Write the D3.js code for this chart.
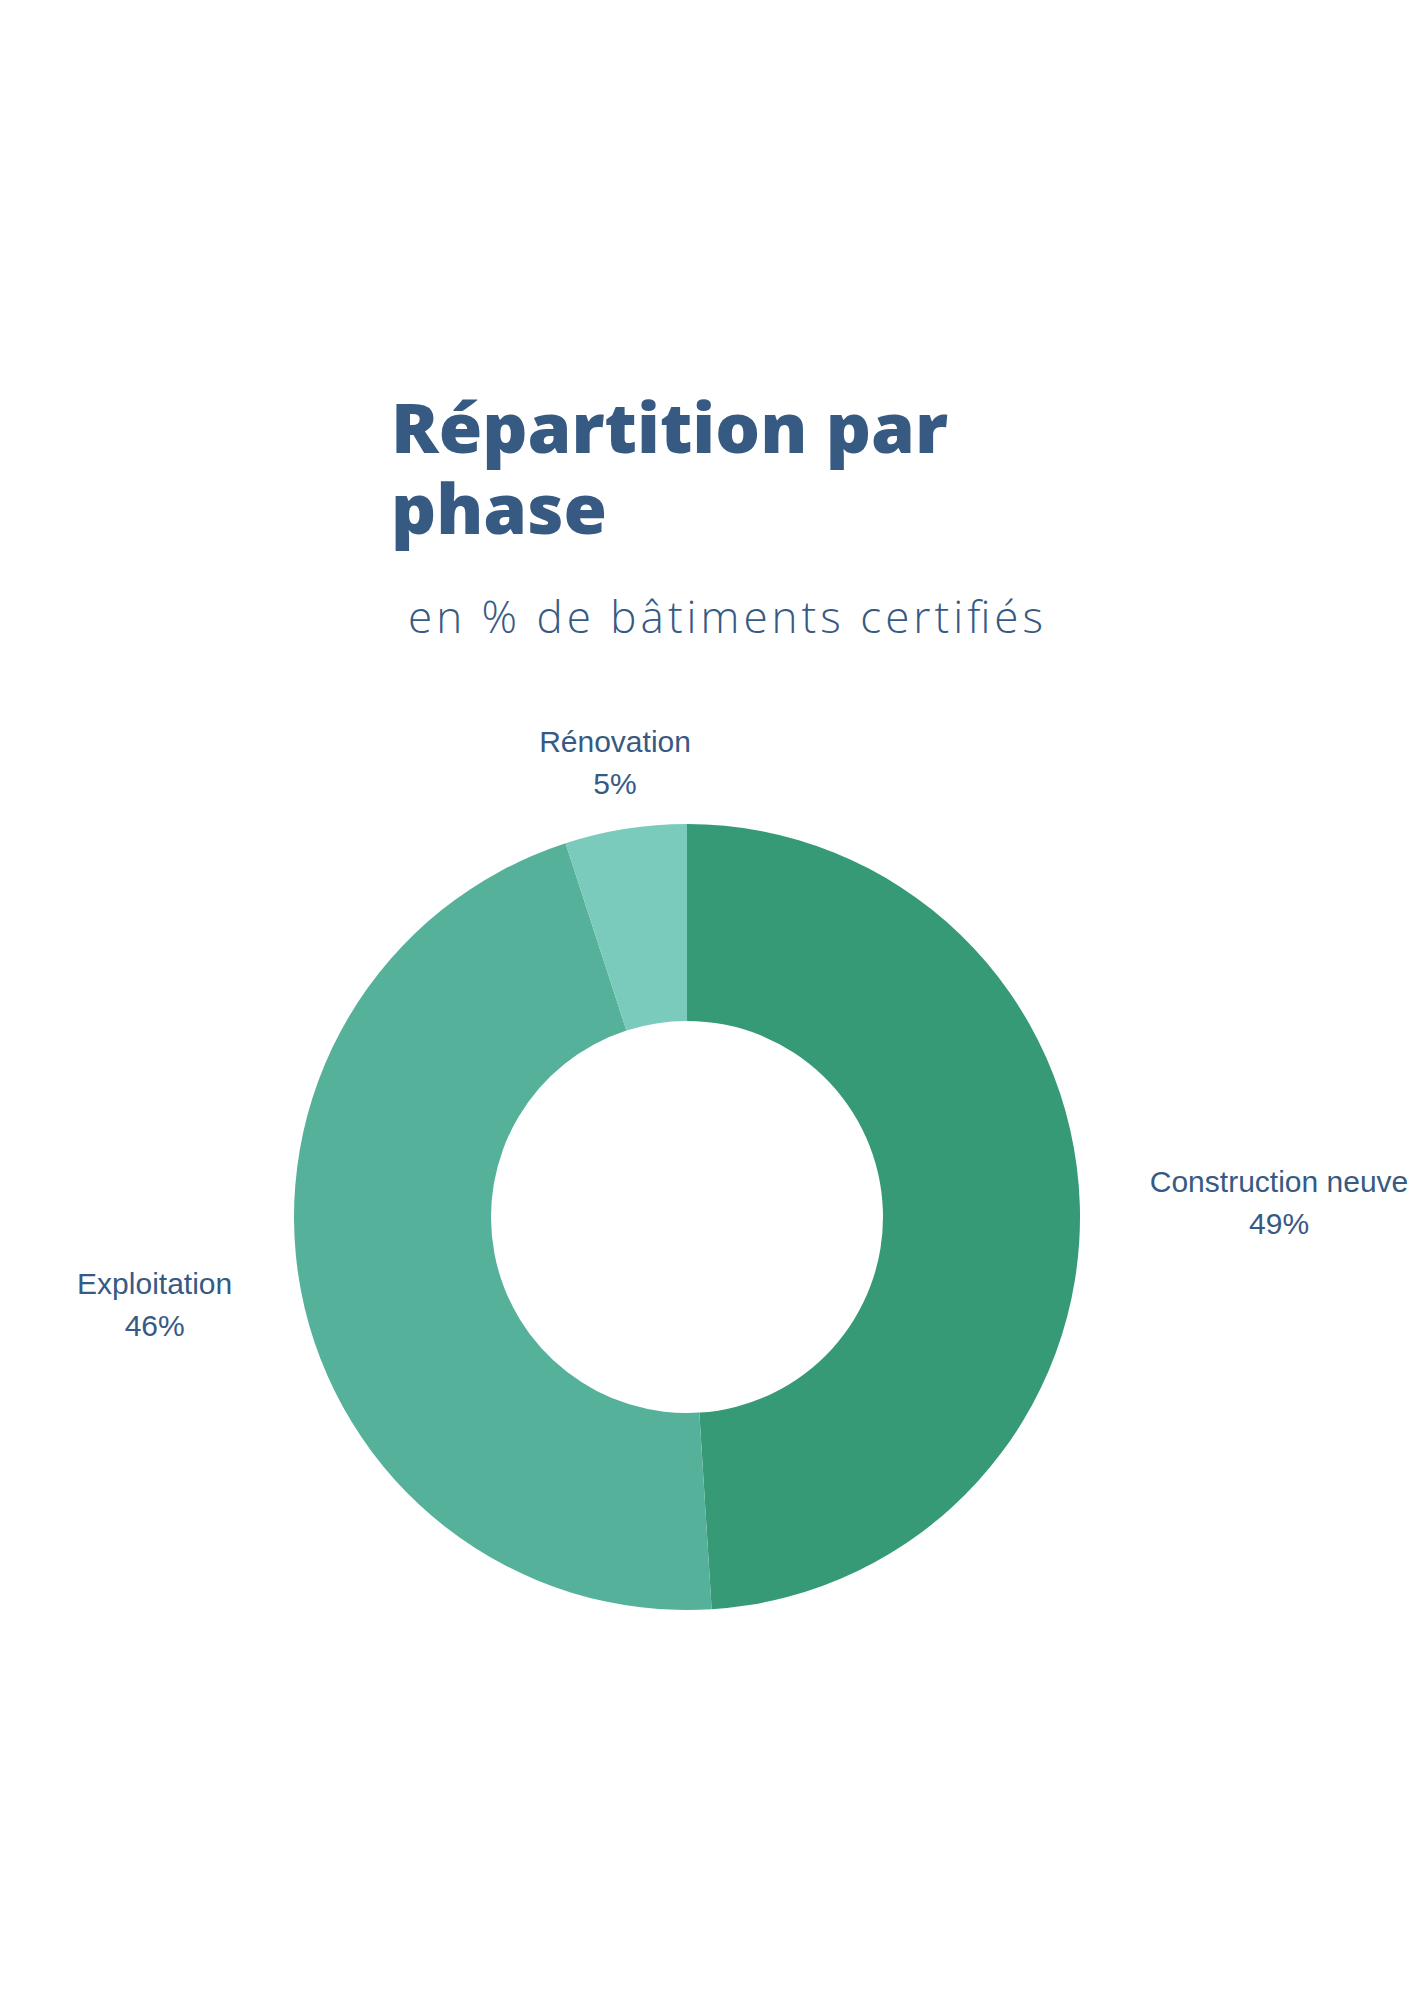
<!DOCTYPE html>
<html>
<head>
<meta charset="utf-8">
<script src="https://cdn.jsdelivr.net/npm/d3@7"></script>
<style>
  html, body { margin: 0; padding: 0; background: #ffffff; }
  svg { display: block; }
</style>
</head>
<body>
<script>
// ---- Data ----
const categories = ["Construction neuve", "Exploitation", "Rénovation"];
const values = [49, 46, 5];
const colors = ["#369a77", "#56b19b", "#7bcbbd"];
const titleLines = ["Répartition par", "phase"];
const subtitle = "en % de bâtiments certifiés";

// ---- Layout ----
const W = 1414, H = 2000;
const cx = 687, cy = 1217;
const outerR = 393, innerR = 196;
const textColor = "#375a83";

const svg = d3.select("body").append("svg")
  .attr("width", W).attr("height", H);

// Title (single text element, two lines)
const titleWidths = [557, 216];
const title = svg.append("text")
  .attr("fill", textColor)
  .attr("font-family", "'Open Sans', 'Noto Sans', sans-serif")
  .attr("font-weight", 800)
  .attr("font-size", 69);
titleLines.forEach((t, i) => {
  title.append("tspan")
    .attr("x", 391).attr("y", 453 + i * 81)
    .attr("textLength", titleWidths[i])
    .attr("lengthAdjust", "spacingAndGlyphs")
    .text(t);
});

// Subtitle
svg.append("text")
  .attr("x", 408).attr("y", 633)
  .attr("fill", textColor)
  .attr("font-family", "'Open Sans', 'Noto Sans', sans-serif")
  .attr("font-weight", 300)
  .attr("font-size", 44)
  .attr("textLength", 635)
  .attr("lengthAdjust", "spacing")
  .text(subtitle);

// Donut
const data = categories.map((c, i) => ({ name: c, value: values[i], color: colors[i] }));
const pie = d3.pie().value(d => d.value).sort(null);
const arcs = pie(data);
const arc = d3.arc().innerRadius(innerR).outerRadius(outerR);

const g = svg.append("g").attr("transform", `translate(${cx},${cy})`);
g.selectAll("path")
  .data(arcs)
  .join("path")
  .attr("d", arc)
  .attr("fill", d => d.data.color);

// Outside labels
const total = d3.sum(values);
const gapX = 70, gapY = 29;
arcs.forEach(a => {
  const mid = (a.startAngle + a.endAngle) / 2;
  const ux = Math.sin(mid), uy = -Math.cos(mid);
  const px = ux * outerR, py = uy * outerR;
  const t = g.append("text")
    .attr("fill", textColor)
    .attr("font-family", "'Liberation Sans', Arial, sans-serif")
    .attr("font-size", 30)
    .attr("text-anchor", "middle");
  t.append("tspan").attr("x", 0).attr("dy", 0).text(a.data.name);
  t.append("tspan").attr("x", 0).attr("dy", 42)
    .text(Math.round(a.data.value / total * 100) + "%");
  const bb = t.node().getBBox();
  const w2 = bb.width / 2, h2 = bb.height / 2;
  const kx = Math.abs(ux) > 1e-6 ? w2 / Math.abs(ux) + gapX : Infinity;
  const ky = Math.abs(uy) > 1e-6 ? h2 / Math.abs(uy) + gapY : Infinity;
  let bx, by;
  if (kx <= ky) {
    bx = px + ux * kx;
    by = py + uy * bb.height;
  } else {
    bx = px + ux * ky;
    by = py + uy * ky;
  }
  const bcy = bb.y + bb.height / 2;
  t.attr("transform", `translate(${bx},${by - bcy})`);
});
</script>
</body>
</html>
